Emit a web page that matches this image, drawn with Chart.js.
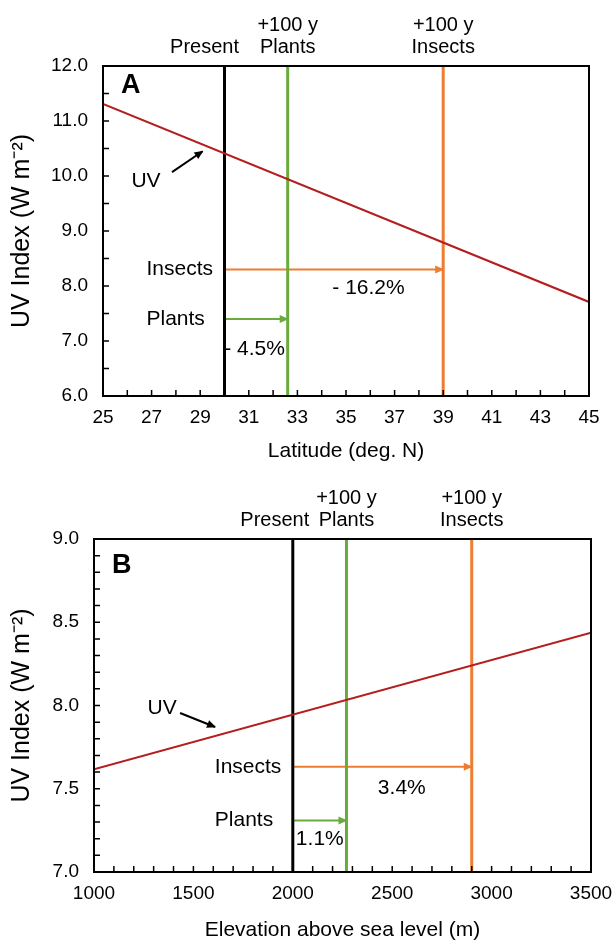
<!DOCTYPE html>
<html>
<head>
<meta charset="utf-8">
<script src="https://cdn.jsdelivr.net/npm/chart.js@4.4.1/dist/chart.umd.min.js"></script>
<style>
body { margin: 0; background: #fff; }
.panel { position: absolute; left: 0; width: 614px; }
#boxA { top: 0; height: 470px; }
#boxB { top: 470px; height: 472px; }
</style>
</head>
<body>
<div class="panel" id="boxA"><canvas id="chartA" width="614" height="470"></canvas></div>
<div class="panel" id="boxB"><canvas id="chartB" width="614" height="472"></canvas></div>
<script>
// ==========================
// Data, panel A (latitude)
// ==========================
const latTicks = [25, 27, 29, 31, 33, 35, 37, 39, 41, 43, 45];
const uvTicksA = [6, 7, 8, 9, 10, 11, 12];
const uvLatX = [25, 45];
const uvLatY = [11.31, 7.71];
const latMarks = [30, 32.6, 39];          // present, +100 y plants, +100 y insects
const latArrowY = [8.3, 7.4];             // insects, plants
const latChange = ["- 16.2%", "- 4.5%"];  // insects, plants
const uvPointerA = [[27.84, 10.07], [29.1, 10.45]];

// ==========================
// Data, panel B (elevation)
// ==========================
const elevTicks = [1000, 1500, 2000, 2500, 3000, 3500];
const uvTicksB = [7.0, 7.5, 8.0, 8.5, 9.0];
const uvElevX = [1000, 3500];
const uvElevY = [7.617, 8.437];
const elevMarks = [2000, 2270, 2900];
const elevArrowY = [7.632, 7.31];
const elevChange = ["3.4%", "1.1%"];
const uvPointerB = [[1433, 7.955], [1609, 7.871]];

const FONT = '"Liberation Sans", Arial, Helvetica, sans-serif';
const RED = "#b41e1e";
const GREEN = "#6aac3c";
const ORANGE = "#ee7d31";

// frame, inner ticks, arrowheads and text notes
const panelPlugin = {
    id: "panel",
    afterDatasetsDraw(chart, args, opts) {
        const ctx = chart.ctx;
        const { left, right, top, bottom } = chart.chartArea;
        const xs = chart.scales.x, ys = chart.scales.y;

        chart.data.datasets.forEach((ds, i) => {
            if (!ds.arrowHead) return;
            const pts = chart.getDatasetMeta(i).data;
            const a = pts[pts.length - 2], b = pts[pts.length - 1];
            const ang = Math.atan2(b.y - a.y, b.x - a.x);
            ctx.save();
            ctx.translate(b.x, b.y);
            ctx.rotate(ang);
            ctx.fillStyle = ds.borderColor;
            ctx.beginPath();
            ctx.moveTo(1, 0);
            ctx.lineTo(-8, -4);
            ctx.lineTo(-8, 4);
            ctx.closePath();
            ctx.fill();
            ctx.restore();
        });

        ctx.save();
        ctx.strokeStyle = "#000";
        ctx.lineWidth = 2;
        ctx.strokeRect(left, top, right - left, bottom - top);

        ctx.lineWidth = 1.5;
        ctx.beginPath();
        let n = Math.round((xs.max - xs.min) / opts.xMinor);
        for (let k = 1; k < n; k++) {
            const px = xs.getPixelForValue(xs.min + k * opts.xMinor);
            ctx.moveTo(px, bottom);
            ctx.lineTo(px, bottom - 6);
        }
        n = Math.round((ys.max - ys.min) / opts.yMinor);
        for (let k = 1; k < n; k++) {
            const py = ys.getPixelForValue(ys.min + k * opts.yMinor);
            ctx.moveTo(left, py);
            ctx.lineTo(left + 6, py);
        }
        ctx.stroke();

        ctx.fillStyle = "#000";
        ctx.textBaseline = "middle";
        opts.notes.forEach(t => {
            ctx.font = t.font || "21px " + FONT;
            ctx.textAlign = t.align || "center";
            const px = t.x === null ? left : xs.getPixelForValue(t.x);
            const py = t.y === null ? top : ys.getPixelForValue(t.y);
            ctx.fillText(t.text, px + (t.dx || 0), py + (t.dy || 0));
        });
        ctx.restore();
    }
};

function makePanel(id, p) {
    const ymin = p.yTicks[0], ymax = p.yTicks[p.yTicks.length - 1];
    const pt = (x, y) => ({ x: x, y: y });
    const line = (data, color, width, extra) => Object.assign({
        data: data,
        borderColor: color,
        backgroundColor: color,
        borderWidth: width,
        showLine: true,
        pointRadius: 0,
        fill: false
    }, extra || {});

    const notes = [
        { text: "Present", x: p.marks[0], y: null, dx: p.presentDx, dy: -19, font: "20px " + FONT },
        { text: "+100 y", x: p.marks[1], y: null, dy: -41, font: "20px " + FONT },
        { text: "Plants", x: p.marks[1], y: null, dy: -19, font: "20px " + FONT },
        { text: "+100 y", x: p.marks[2], y: null, dy: -41, font: "20px " + FONT },
        { text: "Insects", x: p.marks[2], y: null, dy: -19, font: "20px " + FONT },
        { text: p.letter, x: null, y: null, dx: 18, dy: p.letterDy, align: "left", font: "bold 27px " + FONT },
        { text: "UV", x: p.pointer[0][0], y: p.pointer[0][1], dx: p.uvDx, dy: p.uvDy },
        { text: "Insects", x: p.marks[0], y: p.arrowY[0], dx: -78, align: "left" },
        { text: "Plants", x: p.marks[0], y: p.arrowY[1], dx: -78, align: "left" },
        { text: p.change[0], x: p.marks[0], y: p.arrowY[0], dx: p.insDx, dy: p.insDy },
        { text: p.change[1], x: p.marks[0], y: p.arrowY[1], dx: p.plaDx, dy: p.plaDy }
    ];

    return new Chart(document.getElementById(id), {
        type: "scatter",
        data: {
            datasets: [
                line(p.uvX.map((x, i) => pt(x, p.uvY[i])), RED, 2),
                line([pt(p.marks[0], ymin), pt(p.marks[0], ymax)], "#000", 3),
                line([pt(p.marks[1], ymin), pt(p.marks[1], ymax)], GREEN, 3),
                line([pt(p.marks[2], ymin), pt(p.marks[2], ymax)], ORANGE, 3),
                line([pt(p.marks[0], p.arrowY[0]), pt(p.marks[2], p.arrowY[0])], ORANGE, 2, { arrowHead: true }),
                line([pt(p.marks[0], p.arrowY[1]), pt(p.marks[1], p.arrowY[1])], GREEN, 2, { arrowHead: true }),
                line(p.pointer.map(q => pt(q[0], q[1])), "#000", 2, { arrowHead: true })
            ]
        },
        options: {
            responsive: false,
            animation: false,
            events: [],
            layout: { padding: { top: p.padTop, right: p.padRight, left: 0, bottom: 0 } },
            plugins: {
                legend: { display: false },
                tooltip: { enabled: false },
                panel: { xMinor: p.xMinor, yMinor: p.yMinor, notes: notes }
            },
            scales: {
                x: {
                    type: "linear",
                    min: p.xTicks[0],
                    max: p.xTicks[p.xTicks.length - 1],
                    afterBuildTicks: s => { s.ticks = p.xTicks.map(v => ({ value: v })); },
                    afterFit: s => { s.height = p.xAxisHeight; s.paddingLeft = 0; s.paddingRight = 0; },
                    grid: { display: false, drawTicks: false },
                    border: { display: false },
                    ticks: { color: "#000", font: { family: FONT, size: 19 }, padding: 10, maxRotation: 0, autoSkip: false, callback: v => String(v) },
                    title: { display: true, text: p.xTitle, color: "#000", font: { family: FONT, size: 21, lineHeight: 1 }, padding: { top: 0, bottom: p.xTitlePad } }
                },
                y: {
                    type: "linear",
                    min: ymin,
                    max: ymax,
                    afterBuildTicks: s => { s.ticks = p.yTicks.map(v => ({ value: v })); },
                    afterFit: s => { s.width = p.yAxisWidth; s.paddingTop = 0; s.paddingBottom = 0; },
                    grid: { display: false, drawTicks: false },
                    border: { display: false },
                    ticks: { color: "#000", font: { family: FONT, size: 19 }, padding: 15, callback: v => v.toFixed(1) },
                    title: { display: true, text: "UV Index (W m\u207B\u00B2)", color: "#000", font: { family: FONT, size: 25, lineHeight: 1 }, padding: { top: 10, bottom: 0 } }
                }
            }
        },
        plugins: [panelPlugin]
    });
}

makePanel("chartA", {
    xTicks: latTicks, yTicks: uvTicksA, xMinor: 1, yMinor: 0.5,
    uvX: uvLatX, uvY: uvLatY, marks: latMarks, arrowY: latArrowY,
    change: latChange, pointer: uvPointerA, letter: "A",
    xTitle: "Latitude (deg. N)",
    padTop: 66, padRight: 25, yAxisWidth: 103, xAxisHeight: 74, xTitlePad: 8,
    presentDx: -20, letterDy: 20, uvDx: -26, uvDy: 9,
    insDx: 144, insDy: 19, plaDx: 30, plaDy: 30
});

makePanel("chartB", {
    xTicks: elevTicks, yTicks: uvTicksB, xMinor: 100, yMinor: 0.1,
    uvX: uvElevX, uvY: uvElevY, marks: elevMarks, arrowY: elevArrowY,
    change: elevChange, pointer: uvPointerB, letter: "B",
    xTitle: "Elevation above sea level (m)",
    padTop: 69, padRight: 23, yAxisWidth: 94, xAxisHeight: 70, xTitlePad: 1,
    presentDx: -18, letterDy: 27, uvDx: -18, uvDy: -5,
    insDx: 109, insDy: 21, plaDx: 27, plaDy: 19
});
</script>
</body>
</html>
